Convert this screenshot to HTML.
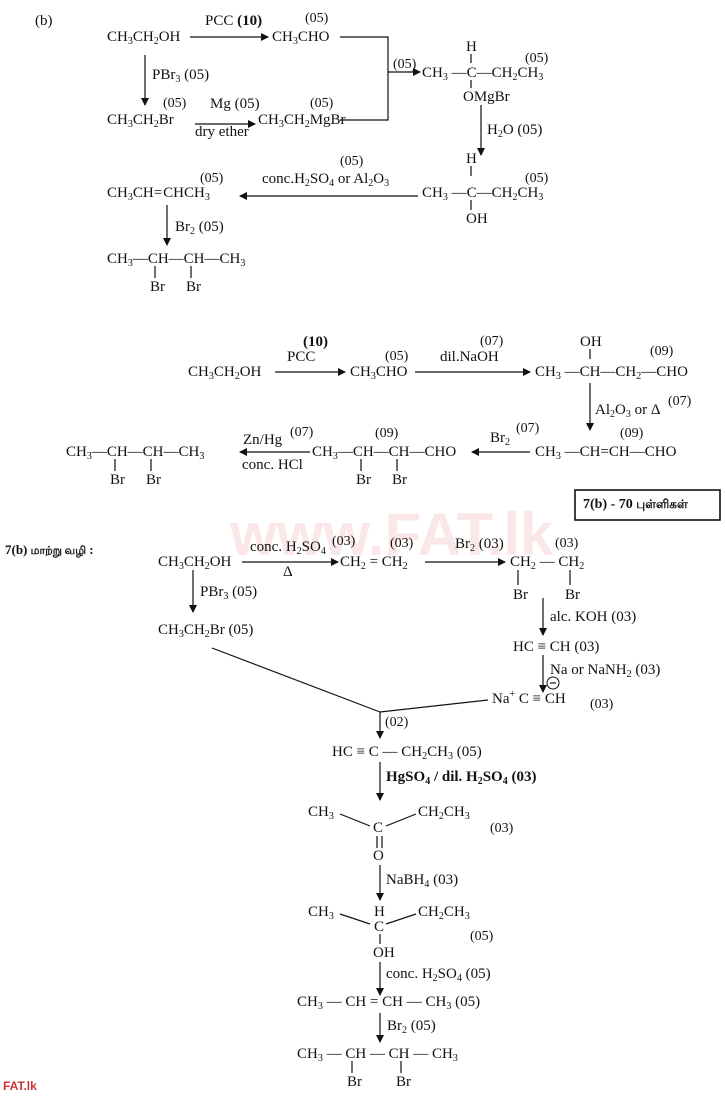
<!DOCTYPE html>
<html><head><meta charset="utf-8">
<style>
html,body{margin:0;padding:0;background:#fff;}
#c{position:relative;width:725px;height:1097px;overflow:hidden;font-family:"Liberation Serif","Noto Serif CJK SC",serif;font-size:15px;color:#111;}
#c div{position:absolute;white-space:nowrap;line-height:1;}
sub{font-size:10px;vertical-align:-3px;line-height:0;}
sup{font-size:10px;vertical-align:6px;line-height:0;}
.s{font-size:14px;}
svg{position:absolute;left:0;top:0;}
.b{font-weight:bold;}
</style></head><body><div id="c">
<svg width="725" height="1097">
<defs><marker id="a" markerWidth="8" markerHeight="8" refX="7" refY="4" orient="auto" markerUnits="userSpaceOnUse"><path d="M0,0 L8,4 L0,8 z" fill="#111"/></marker></defs>
<g stroke="#111" stroke-width="1.2" fill="none">
<line x1="190" y1="37" x2="268" y2="37" marker-end="url(#a)"/>
<polyline points="340,37 388,37 388,120 340,120"/>
<line x1="388" y1="72" x2="420" y2="72" marker-end="url(#a)"/>
<line x1="471" y1="54" x2="471" y2="63"/>
<line x1="471" y1="80" x2="471" y2="88"/>
<line x1="481" y1="105" x2="481" y2="155" marker-end="url(#a)"/>
<line x1="471" y1="166" x2="471" y2="176"/>
<line x1="471" y1="200" x2="471" y2="210"/>
<line x1="418" y1="196" x2="240" y2="196" marker-end="url(#a)"/>
<line x1="145" y1="55" x2="145" y2="105" marker-end="url(#a)"/>
<line x1="195" y1="124" x2="255" y2="124" marker-end="url(#a)"/>
<line x1="167" y1="205" x2="167" y2="245" marker-end="url(#a)"/>
<line x1="155" y1="266" x2="155" y2="278"/><line x1="191" y1="266" x2="191" y2="278"/>
<line x1="275" y1="372" x2="345" y2="372" marker-end="url(#a)"/>
<line x1="415" y1="372" x2="530" y2="372" marker-end="url(#a)"/>
<line x1="590" y1="349" x2="590" y2="359"/>
<line x1="590" y1="383" x2="590" y2="430" marker-end="url(#a)"/>
<line x1="530" y1="452" x2="472" y2="452" marker-end="url(#a)"/>
<line x1="361" y1="459" x2="361" y2="471"/><line x1="397" y1="459" x2="397" y2="471"/>
<line x1="310" y1="452" x2="240" y2="452" marker-end="url(#a)"/>
<line x1="115" y1="459" x2="115" y2="471"/><line x1="151" y1="459" x2="151" y2="471"/>
<line x1="242" y1="562" x2="338" y2="562" marker-end="url(#a)"/>
<line x1="425" y1="562" x2="505" y2="562" marker-end="url(#a)"/>
<line x1="518" y1="570" x2="518" y2="585"/><line x1="570" y1="570" x2="570" y2="585"/>
<line x1="543" y1="598" x2="543" y2="635" marker-end="url(#a)"/>
<line x1="543" y1="655" x2="543" y2="692" marker-end="url(#a)"/>
<line x1="193" y1="570" x2="193" y2="612" marker-end="url(#a)"/>
<line x1="212" y1="648" x2="380" y2="712"/>
<line x1="488" y1="700" x2="380" y2="712"/>
<line x1="380" y1="712" x2="380" y2="738" marker-end="url(#a)"/>
<line x1="380" y1="762" x2="380" y2="800" marker-end="url(#a)"/>
<line x1="340" y1="814" x2="370" y2="826"/><line x1="386" y1="826" x2="416" y2="814"/>
<line x1="377" y1="836" x2="377" y2="848"/><line x1="382" y1="836" x2="382" y2="848"/>
<line x1="380" y1="865" x2="380" y2="900" marker-end="url(#a)"/>
<line x1="340" y1="914" x2="370" y2="924"/><line x1="386" y1="924" x2="416" y2="914"/>
<line x1="380" y1="934" x2="380" y2="944"/>
<line x1="380" y1="962" x2="380" y2="995" marker-end="url(#a)"/>
<line x1="380" y1="1013" x2="380" y2="1042" marker-end="url(#a)"/>
<line x1="352" y1="1061" x2="352" y2="1073"/><line x1="401" y1="1061" x2="401" y2="1073"/>
<rect x="575" y="490" width="145" height="30" stroke-width="1.6"/>
<circle cx="553" cy="683" r="6" stroke-width="1"/><line x1="550" y1="683" x2="556" y2="683"/>
</g>
</svg>
<div style="left:230px;top:505px;font-size:60px;font-family:'Liberation Sans',sans-serif;font-weight:bold;color:rgba(220,60,60,0.12)">www.FAT.lk</div>

<div style="left:35px;top:14px">(b)</div>
<div style="left:107px;top:30px">CH<sub>3</sub>CH<sub>2</sub>OH</div>
<div style="left:205px;top:14px">PCC <b>(10)</b></div>
<div class="s" style="left:305px;top:12px">(05)</div>
<div style="left:272px;top:30px">CH<sub>3</sub>CHO</div>
<div class="s" style="left:393px;top:58px">(05)</div>
<div style="left:466px;top:40px">H</div>
<div style="left:422px;top:66px">CH<sub>3</sub> —C—CH<sub>2</sub>CH<sub>3</sub></div>
<div class="s" style="left:525px;top:52px">(05)</div>
<div style="left:463px;top:90px">OMgBr</div>
<div style="left:487px;top:123px">H<sub>2</sub>O (05)</div>
<div style="left:466px;top:152px">H</div>
<div style="left:422px;top:186px">CH<sub>3</sub> —C—CH<sub>2</sub>CH<sub>3</sub></div>
<div class="s" style="left:525px;top:172px">(05)</div>
<div style="left:466px;top:212px">OH</div>
<div class="s" style="left:340px;top:155px">(05)</div>
<div style="left:262px;top:172px">conc.H<sub>2</sub>SO<sub>4</sub> or Al<sub>2</sub>O<sub>3</sub></div>
<div class="s" style="left:200px;top:172px">(05)</div>
<div style="left:107px;top:186px">CH<sub>3</sub>CH<span style="letter-spacing:1px">=</span>CHCH<sub>3</sub></div>
<div style="left:152px;top:68px">PBr<sub>3</sub> (05)</div>
<div class="s" style="left:163px;top:97px">(05)</div>
<div style="left:107px;top:113px">CH<sub>3</sub>CH<sub>2</sub>Br</div>
<div style="left:210px;top:97px">Mg (05)</div>
<div style="left:195px;top:125px">dry ether</div>
<div class="s" style="left:310px;top:97px">(05)</div>
<div style="left:258px;top:113px">CH<sub>3</sub>CH<sub>2</sub>MgBr</div>
<div style="left:175px;top:220px">Br<sub>2</sub> (05)</div>
<div style="left:107px;top:252px">CH<sub>3</sub>—CH—CH—CH<sub>3</sub></div>
<div style="left:150px;top:280px">Br</div><div style="left:186px;top:280px">Br</div>

<div style="left:303px;top:335px"><b>(10)</b></div>
<div style="left:287px;top:350px">PCC</div>
<div style="left:188px;top:365px">CH<sub>3</sub>CH<sub>2</sub>OH</div>
<div class="s" style="left:385px;top:350px">(05)</div>
<div style="left:350px;top:365px">CH<sub>3</sub>CHO</div>
<div class="s" style="left:480px;top:335px">(07)</div>
<div style="left:440px;top:350px">dil.NaOH</div>
<div style="left:580px;top:335px">OH</div>
<div style="left:535px;top:365px">CH<sub>3</sub> —CH—CH<sub>2</sub>—CHO</div>
<div class="s" style="left:650px;top:345px">(09)</div>
<div style="left:595px;top:403px">Al<sub>2</sub>O<sub>3</sub> or Δ</div>
<div class="s" style="left:668px;top:395px">(07)</div>
<div class="s" style="left:620px;top:427px">(09)</div>
<div style="left:535px;top:445px">CH<sub>3</sub> —CH=CH—CHO</div>
<div style="left:490px;top:431px">Br<sub>2</sub></div>
<div class="s" style="left:516px;top:422px">(07)</div>
<div class="s" style="left:375px;top:427px">(09)</div>
<div style="left:312px;top:445px">CH<sub>3</sub>—CH—CH—CHO</div>
<div style="left:356px;top:473px">Br</div><div style="left:392px;top:473px">Br</div>
<div style="left:243px;top:433px">Zn/Hg</div>
<div class="s" style="left:290px;top:426px">(07)</div>
<div style="left:242px;top:458px">conc. HCl</div>
<div style="left:66px;top:445px">CH<sub>3</sub>—CH—CH—CH<sub>3</sub></div>
<div style="left:110px;top:473px">Br</div><div style="left:146px;top:473px">Br</div>
<div style="left:583px;top:498px;font-weight:bold;font-size:14px;font-family:'Liberation Serif','Noto Sans CJK SC',serif">7(b) - 70 <span style="font-size:12px">புள்ளிகள்</span></div>

<div style="left:5px;top:543px;font-size:13px;font-weight:bold">7(b) <span style="font-size:11px">மாற்று வழி</span> :</div>
<div style="left:158px;top:555px">CH<sub>3</sub>CH<sub>2</sub>OH</div>
<div style="left:250px;top:540px">conc. H<sub>2</sub>SO<sub>4</sub></div>
<div class="s" style="left:332px;top:535px">(03)</div>
<div style="left:283px;top:565px">Δ</div>
<div class="s" style="left:390px;top:537px">(03)</div>
<div style="left:340px;top:555px">CH<sub>2</sub> = CH<sub>2</sub></div>
<div style="left:455px;top:537px">Br<sub>2</sub> (03)</div>
<div class="s" style="left:555px;top:537px">(03)</div>
<div style="left:510px;top:555px">CH<sub>2</sub> — CH<sub>2</sub></div>
<div style="left:513px;top:588px">Br</div><div style="left:565px;top:588px">Br</div>
<div style="left:550px;top:610px">alc. KOH (03)</div>
<div style="left:513px;top:640px">HC ≡ CH  (03)</div>
<div style="left:550px;top:663px">Na or NaNH<sub>2</sub> (03)</div>
<div style="left:492px;top:692px">Na<sup>+</sup> C ≡ CH</div>
<div class="s" style="left:590px;top:698px">(03)</div>
<div style="left:200px;top:585px">PBr<sub>3</sub> (05)</div>
<div style="left:158px;top:623px">CH<sub>3</sub>CH<sub>2</sub>Br   (05)</div>
<div class="s" style="left:385px;top:716px">(02)</div>
<div style="left:332px;top:745px">HC ≡ C — CH<sub>2</sub>CH<sub>3</sub>  (05)</div>
<div class="b" style="left:386px;top:770px">HgSO<sub>4</sub> / dil. H<sub>2</sub>SO<sub>4</sub>  (03)</div>
<div style="left:308px;top:805px">CH<sub>3</sub></div>
<div style="left:373px;top:821px">C</div>
<div style="left:418px;top:805px">CH<sub>2</sub>CH<sub>3</sub></div>
<div class="s" style="left:490px;top:822px">(03)</div>
<div style="left:373px;top:849px">O</div>
<div style="left:386px;top:873px">NaBH<sub>4</sub>  (03)</div>
<div style="left:308px;top:905px">CH<sub>3</sub></div>
<div style="left:374px;top:905px">H</div>
<div style="left:374px;top:920px">C</div>
<div style="left:418px;top:905px">CH<sub>2</sub>CH<sub>3</sub></div>
<div class="s" style="left:470px;top:930px">(05)</div>
<div style="left:373px;top:946px">OH</div>
<div style="left:386px;top:967px">conc. H<sub>2</sub>SO<sub>4</sub>  (05)</div>
<div style="left:297px;top:995px">CH<sub>3</sub> — CH = CH — CH<sub>3</sub>  (05)</div>
<div style="left:387px;top:1019px">Br<sub>2</sub>  (05)</div>
<div style="left:297px;top:1047px">CH<sub>3</sub> — CH — CH — CH<sub>3</sub></div>
<div style="left:347px;top:1075px">Br</div><div style="left:396px;top:1075px">Br</div>
<div style="left:3px;top:1080px;font-size:12px;font-weight:bold;color:#c33;font-family:'Liberation Sans',sans-serif">FAT.lk</div>
</div></body></html>
